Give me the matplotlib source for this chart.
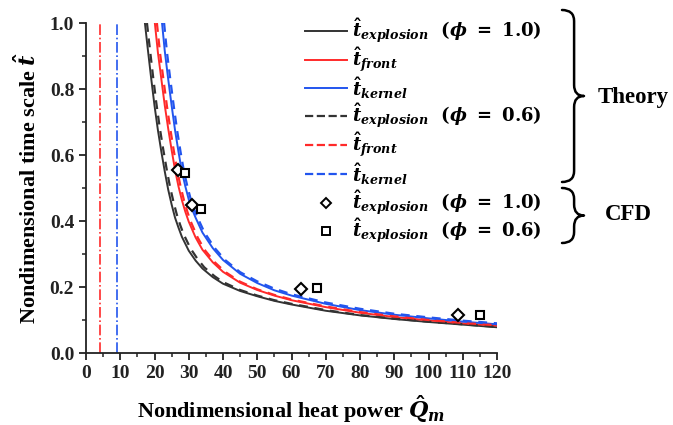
import matplotlib
matplotlib.use('Agg')
import matplotlib.pyplot as plt
from matplotlib.path import Path
from matplotlib.patches import PathPatch
from matplotlib.lines import Line2D

plt.rcParams['font.family'] = ['Liberation Serif', 'DejaVu Serif']
plt.rcParams['font.weight'] = 'bold'
plt.rcParams['mathtext.fontset'] = 'custom'
plt.rcParams['mathtext.it'] = 'DejaVu Serif:italic:bold'
plt.rcParams['mathtext.rm'] = 'DejaVu Serif:bold'
plt.rcParams['mathtext.bf'] = 'DejaVu Serif:bold'

# ---------------- data ----------------
# Theory, phi = 1.0
q_exp_10 = [17.2, 18, 19, 20, 21, 22, 23, 24, 25, 26, 27, 28, 30, 32, 34, 37, 40, 45, 50, 55, 60, 70, 80, 90, 100, 110, 120]
t_exp_10 = [1.00, 0.925, 0.835, 0.75, 0.675, 0.61, 0.55, 0.495, 0.45, 0.41, 0.38, 0.352, 0.31, 0.28, 0.256, 0.23, 0.21, 0.188, 0.172, 0.158, 0.147, 0.128, 0.114, 0.103, 0.094, 0.086, 0.078]
q_front_10 = [20.1, 21, 22, 23, 24, 25, 26, 27, 28, 29, 30, 32, 34, 37, 40, 45, 50, 55, 60, 70, 80, 90, 100, 110, 120]
t_front_10 = [1.00, 0.91, 0.83, 0.75, 0.68, 0.615, 0.555, 0.505, 0.463, 0.428, 0.398, 0.35, 0.313, 0.275, 0.246, 0.213, 0.191, 0.174, 0.160, 0.139, 0.122, 0.109, 0.099, 0.090, 0.083]
q_kernel_10 = [22.2, 23, 24, 25, 26, 27, 28, 29, 30, 31, 32, 34, 37, 40, 45, 50, 55, 60, 70, 80, 90, 100, 110, 120]
t_kernel_10 = [1.00, 0.915, 0.83, 0.75, 0.675, 0.61, 0.55, 0.505, 0.465, 0.435, 0.41, 0.365, 0.318, 0.282, 0.24, 0.212, 0.19, 0.174, 0.149, 0.130, 0.116, 0.105, 0.095, 0.087]
# Theory, phi = 0.6
q_exp_06 = [17.8, 18.5, 19.5, 20.5, 21.5, 22.5, 23.5, 24.5, 25.5, 26.5, 27.5, 28.5, 30.5, 32.5, 34.5, 37.5, 40, 45, 50, 55, 60, 70, 80, 90, 100, 110, 120]
t_exp_06 = [1.00, 0.935, 0.845, 0.76, 0.685, 0.62, 0.56, 0.505, 0.46, 0.42, 0.388, 0.36, 0.317, 0.286, 0.26, 0.233, 0.215, 0.191, 0.174, 0.16, 0.149, 0.13, 0.115, 0.104, 0.095, 0.087, 0.079]
q_front_06 = [20.7, 21.6, 22.6, 23.6, 24.6, 25.6, 26.6, 27.6, 28.6, 29.6, 30.6, 32.6, 34.6, 37.6, 40.6, 45, 50, 55, 60, 70, 80, 90, 100, 110, 120]
t_front_06 = [1.00, 0.91, 0.83, 0.75, 0.68, 0.615, 0.555, 0.505, 0.463, 0.428, 0.398, 0.35, 0.313, 0.275, 0.246, 0.216, 0.193, 0.176, 0.162, 0.141, 0.124, 0.111, 0.100, 0.091, 0.084]
q_kernel_06 = [22.8, 23.6, 24.6, 25.6, 26.6, 27.6, 28.6, 29.6, 30.6, 31.6, 32.6, 34.6, 37.6, 40.6, 45, 50, 55, 60, 70, 80, 90, 100, 110, 120]
t_kernel_06 = [1.00, 0.915, 0.83, 0.75, 0.675, 0.61, 0.55, 0.505, 0.465, 0.435, 0.41, 0.365, 0.318, 0.282, 0.245, 0.217, 0.195, 0.178, 0.153, 0.134, 0.119, 0.108, 0.098, 0.090]
# CFD
q_cfd_10 = [26.9, 30.9, 62.8, 108.7]
t_cfd_10 = [0.555, 0.450, 0.194, 0.115]
q_cfd_06 = [29.0, 33.6, 67.3, 115.0]
t_cfd_06 = [0.545, 0.435, 0.196, 0.115]
# vertical reference lines
q_vline_front = 4.1
q_vline_kernel = 9.0

labels = [r'$\hat{t}_{explosion}\ \ (\phi\ =\ 1.0)$',
          r'$\hat{t}_{front}$',
          r'$\hat{t}_{kernel}$',
          r'$\hat{t}_{explosion}\ \ (\phi\ =\ 0.6)$',
          r'$\hat{t}_{front}$',
          r'$\hat{t}_{kernel}$',
          r'$\hat{t}_{explosion}\ \ (\phi\ =\ 1.0)$',
          r'$\hat{t}_{explosion}\ \ (\phi\ =\ 0.6)$']

# ---------------- figure ----------------
W, H = 673, 425
fig = plt.figure(figsize=(W / 100, H / 100), dpi=100)
ax = fig.add_axes([86 / W, 1 - 353 / H, (497 - 86) / W, (353 - 23) / H])

BLACK = '#333333'
RED = '#ff2a2a'
BLUE = '#2255ee'
dash = (0, (4, 3))

ax.axvline(q_vline_front, color=RED, lw=1.2, ls='-.')
ax.axvline(q_vline_kernel, color=BLUE, lw=1.2, ls='-.')

h1, = ax.plot(q_exp_10, t_exp_10, color=BLACK, lw=1.4)
h2, = ax.plot(q_front_10, t_front_10, color=RED, lw=1.4)
h3, = ax.plot(q_kernel_10, t_kernel_10, color=BLUE, lw=1.4)
h4, = ax.plot(q_exp_06, t_exp_06, color=BLACK, lw=1.6, ls=dash)
h5, = ax.plot(q_front_06, t_front_06, color=RED, lw=1.6, ls=dash)
h6, = ax.plot(q_kernel_06, t_kernel_06, color=BLUE, lw=1.6, ls=dash)
h7, = ax.plot(q_cfd_10, t_cfd_10, ls='none', marker='D', ms=6.5, mfc='white', mec='black', mew=1.5)
h8, = ax.plot(q_cfd_06, t_cfd_06, ls='none', marker='s', ms=6, mfc='white', mec='black', mew=1.5)

ax.set_xlim(0, 120)
ax.set_ylim(0, 1.0)
ax.set_xticks(range(0, 121, 10))
ax.set_xticks(range(5, 121, 10), minor=True)
ax.set_yticks([0.0, 0.2, 0.4, 0.6, 0.8, 1.0])
ax.set_yticks([0.1, 0.3, 0.5, 0.7, 0.9], minor=True)
ax.set_yticklabels(['0.0', '0.2', '0.4', '0.6', '0.8', '1.0'])
for s in ['top', 'right']:
    ax.spines[s].set_visible(False)
for s in ['left', 'bottom']:
    ax.spines[s].set_linewidth(1.3)
    ax.spines[s].set_color('#222222')
ax.tick_params(which='major', direction='out', length=5, width=1.3, labelsize=14, colors='#222222')
ax.tick_params(which='minor', direction='out', length=3, width=1.1, colors='#222222')
for lab in ax.get_xticklabels() + ax.get_yticklabels():
    lab.set_fontweight('bold')

ax.set_xlabel(r'Nondimensional heat power $\hat{Q}_m$', fontsize=16, fontweight='bold', labelpad=8)
ax.set_ylabel(r'Nondimensional time scale $\hat{t}$', fontsize=16, fontweight='bold', labelpad=6)

# ---------------- legend (manually placed rows) ----------------
row_y = [31, 60, 88, 116, 145, 174, 203, 231]
handles = [h1, h2, h3, h4, h5, h6, h7, h8]
for y, h, lab in zip(row_y, handles, labels):
    yf = 1 - y / H
    if h.get_linestyle() != 'None':
        fig.add_artist(Line2D([305 / W, 347 / W], [yf, yf], transform=fig.transFigure,
                              color=h.get_color(), lw=h.get_linewidth(), ls=h.get_linestyle()))
    else:
        fig.add_artist(Line2D([326 / W], [yf], transform=fig.transFigure, ls='none',
                              marker=h.get_marker(), ms=h.get_markersize() * 0.85,
                              mfc='white', mec='black', mew=1.4))
    fig.text(352 / W, yf, lab, fontsize=13, va='center', ha='left')


def brace(x_left, y_top, y_bot, width=22, r=11):
    xm = x_left + width * 0.55
    xr = x_left + width
    ym = (y_top + y_bot) / 2
    pts = [(x_left, y_top), (xm, y_top), (xm, y_top + r),
           (xm, ym - r),
           (xm, ym), (xr, ym),
           (xm, ym), (xm, ym + r),
           (xm, y_bot - r),
           (xm, y_bot), (x_left, y_bot)]
    codes = [Path.MOVETO, Path.CURVE3, Path.CURVE3,
             Path.LINETO,
             Path.CURVE3, Path.CURVE3,
             Path.CURVE3, Path.CURVE3,
             Path.LINETO,
             Path.CURVE3, Path.CURVE3]
    pts = [(x / W, 1 - y / H) for x, y in pts]
    patch = PathPatch(Path(pts, codes), transform=fig.transFigure, fill=False,
                      lw=1.8, color='black', capstyle='round', joinstyle='round')
    fig.patches.append(patch)


brace(562, 10, 182)
brace(562, 188, 243)
fig.text(598 / W, 1 - 97 / H, 'Theory', fontsize=16.5, fontweight='bold', va='center', ha='left')
fig.text(605 / W, 1 - 214 / H, 'CFD', fontsize=16.5, fontweight='bold', va='center', ha='left')

fig.savefig('out.png', dpi=100)
